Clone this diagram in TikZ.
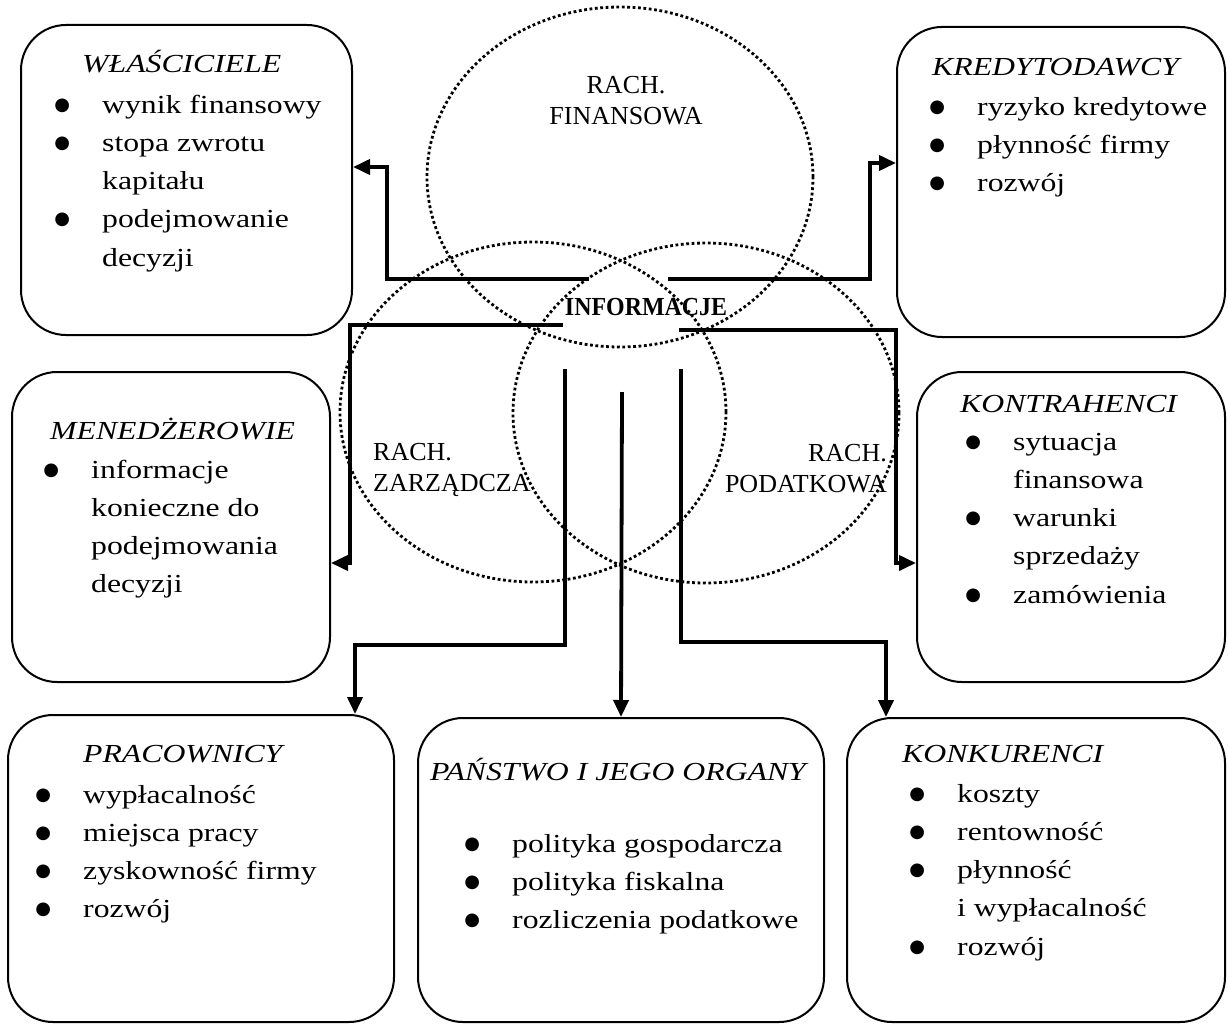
\documentclass[tikz,border=0pt]{standalone}
\usepackage{fontspec}
\setmainfont{Liberation Serif}[FakeStretch=1.22]
\newfontfamily\rachfont{Liberation Serif}
\newfontfamily\infofont{Liberation Serif}[FakeStretch=0.92]
\newfontfamily\kropfont{DejaVu Sans}
\usetikzlibrary{arrows.meta}
\usetikzlibrary{shapes.geometric}
\newcommand{\pkt}{\makebox[40pt][l]{\makebox[0pt]{\kropfont\fontsize{18}{18}\selectfont\raisebox{3pt}{●}}}}
\newcommand{\dalej}{\hspace*{40pt}}

\begin{document}
\begin{tikzpicture}[x=1pt,y=-1pt,
    box/.style={draw, line width=2pt, rounded corners=45pt, inner sep=0pt},
    ring/.style={draw, ellipse, line width=2.8pt, dash pattern=on 2.8pt off 2.6pt,
                 minimum width=386pt, minimum height=340pt, inner sep=0pt},
    naglowek/.style={anchor=base west, inner sep=0pt, font=\fontsize{26}{30}\selectfont\itshape},
    lista/.style={anchor=base west, inner sep=0pt, font=\fontsize{26}{38.3}\selectfont},
    rach/.style={inner sep=0pt, font=\rachfont\fontsize{26}{31}\selectfont},
    link/.style={line width=3.8pt, -{Triangle[length=17pt,width=15pt]}}]
    \useasboundingbox (0,0) rectangle (1228,1025);

    % trzy obszary rachunkowosci
    \node[ring] (fin) at (620,177) {};
    \node[ring] (zar) at (533,412) {};
    \node[ring] (pod) at (706,413) {};

    \node[rach, anchor=base] (finL) at (626,93) {\begin{tabular}[t]{@{}c@{}}RACH.\\FINANSOWA\end{tabular}};
    \node[rach, anchor=base west] (zarL) at (373,460) {\begin{tabular}[t]{@{}l@{}}RACH.\\ZARZĄDCZA\end{tabular}};
    \node[rach, anchor=base east] (podL) at (887,461) {\begin{tabular}[t]{@{}r@{}}RACH.\\PODATKOWA\end{tabular}};
    \node[inner sep=0pt, anchor=base, font=\infofont\bfseries\fontsize{26}{30}\selectfont] (info) at (646,315) {INFORMACJE};

    % odbiorcy informacji
    \node[box, minimum width=331pt, minimum height=310pt] (wlasc) at (186.5,180) {};
    \node[box, minimum width=328pt, minimum height=310pt] (kred) at (1061,182) {};
    \node[box, minimum width=318pt, minimum height=310pt] (men) at (171,527) {};
    \node[box, minimum width=308pt, minimum height=310pt] (kontr) at (1071,527) {};
    \node[box, minimum width=386pt, minimum height=307pt] (prac) at (201,868.5) {};
    \node[box, minimum width=406pt, minimum height=304pt] (pan) at (621,870) {};
    \node[box, minimum width=378pt, minimum height=304pt] (konk) at (1036,870) {};

    \node[naglowek] (wlascT) at (82,73) {WŁAŚCICIELE};
    \node[lista] (wlascL) at (62,113) {\begin{tabular}[t]{@{}l@{}}
        \pkt wynik finansowy\\ \pkt stopa zwrotu\\ \dalej kapitału\\ \pkt podejmowanie\\ \dalej decyzji\end{tabular}};

    \node[naglowek] (kredT) at (932,75) {KREDYTODAWCY};
    \node[lista] (kredL) at (937,115) {\begin{tabular}[t]{@{}l@{}}
        \pkt ryzyko kredytowe\\ \pkt płynność firmy\\ \pkt rozwój\end{tabular}};

    \node[naglowek] (menT) at (50,439) {MENEDŻEROWIE};
    \node[lista] (menL) at (51,478) {\begin{tabular}[t]{@{}l@{}}
        \pkt informacje\\ \dalej konieczne do\\ \dalej podejmowania\\ \dalej decyzji\end{tabular}};

    \node[naglowek] (kontrT) at (960,412) {KONTRAHENCI};
    \node[lista] (kontrL) at (973,450) {\begin{tabular}[t]{@{}l@{}}
        \pkt sytuacja\\ \dalej finansowa\\ \pkt warunki\\ \dalej sprzedaży\\ \pkt zamówienia\end{tabular}};

    \node[naglowek] (pracT) at (83,762) {PRACOWNICY};
    \node[lista] (pracL) at (43,803) {\begin{tabular}[t]{@{}l@{}}
        \pkt wypłacalność\\ \pkt miejsca pracy\\ \pkt zyskowność firmy\\ \pkt rozwój\end{tabular}};

    \node[naglowek] (panT) at (430,780) {PAŃSTWO I JEGO ORGANY};
    \node[lista] (panL) at (472,852) {\begin{tabular}[t]{@{}l@{}}
        \pkt polityka gospodarcza\\ \pkt polityka fiskalna\\ \pkt rozliczenia podatkowe\end{tabular}};

    \node[naglowek] (konkT) at (902,762) {KONKURENCI};
    \node[lista] (konkL) at (917,802) {\begin{tabular}[t]{@{}l@{}}
        \pkt koszty\\ \pkt rentowność\\ \pkt płynność\\ \dalej i wypłacalność\\ \pkt rozwój\end{tabular}};

    % przeplyw informacji
    \coordinate (wS) at (589,279);
    \coordinate (kS) at (668,279);
    \coordinate (mS) at (563,325);
    \coordinate (tS) at (679,330);
    \coordinate (pS) at (565,369);
    \coordinate (sS) at (622,392);
    \coordinate (nS) at (681,369);

    \draw[link] (wS) -- (387,279) |- ([yshift=13pt]wlasc.east);
    \draw[link] (kS) -- (870,279) |- ([yshift=19pt]kred.west);
    \draw[link] (mS) -- (350,325) |- ([yshift=-36pt]men.east);
    \draw[link] (tS) -- (896,330) |- ([yshift=-36pt]kontr.west);
    \draw[link] (pS) -- (565,645) -| ([xshift=154pt]prac.north);
    \draw[link] (sS) -- (pan.north);
    \draw[link] (nS) -- (681,642) -| ([xshift=-150pt]konk.north);
\end{tikzpicture}
\end{document}
